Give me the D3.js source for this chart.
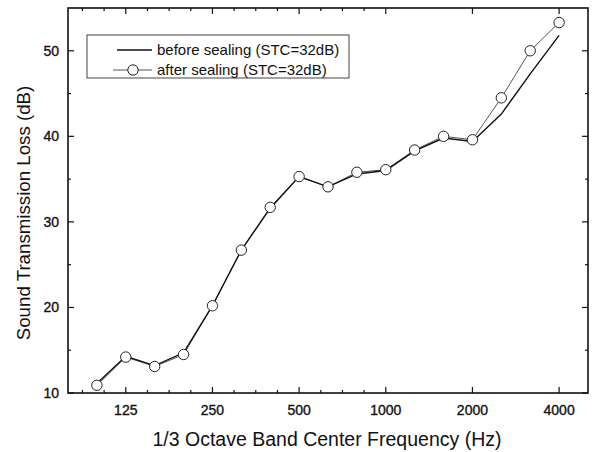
<!DOCTYPE html>
<html>
<head>
<meta charset="utf-8">
<script src="https://cdn.jsdelivr.net/npm/d3@7"></script>
<style>
  html, body { margin: 0; padding: 0; background: #fff; }
  svg { display: block; }
  text { font-family: "Liberation Sans", Arial, sans-serif; fill: #111; }
</style>
</head>
<body>
<svg id="chart" width="593" height="452"></svg>
<script>
// 1/3-octave band centre frequencies (Hz)
const freqs = [100, 125, 160, 200, 250, 315, 400, 500, 630, 800, 1000, 1250, 1600, 2000, 2500, 3150, 4000];
// Sound transmission loss (dB)
const before = [11.1, 14.3, 13.2, 14.7, 20.2, 26.7, 31.6, 35.3, 34.1, 35.6, 36.0, 38.3, 39.8, 39.4, 42.6, 47.3, 51.8];
const after  = [10.9, 14.2, 13.1, 14.5, 20.2, 26.7, 31.7, 35.3, 34.1, 35.8, 36.1, 38.4, 40.0, 39.6, 44.5, 50.0, 53.3];
// Labelled octave ticks and value ticks
const xTickLabels = [125, 250, 500, 1000, 2000, 4000];
const yTickLabels = [10, 20, 30, 40, 50];
const seriesNames = ["before sealing (STC=32dB)", "after sealing (STC=32dB)"];

const svg = d3.select("#chart");
const L = 68, R = 588, T = 8, B = 393;

// exact band centre for a nominal 1/3-octave frequency
const exact = f => 1000 * Math.pow(2, Math.round(3 * Math.log2(f / 1000)) / 3);

const x = d3.scaleLog()
  .domain([1000 * Math.pow(2, -11 / 3), 1000 * Math.pow(2, 7 / 3)])
  .range([L, R]);
const y = d3.scaleLinear().domain([10, 55]).range([B, T]);

// quarter-octave minor ticks around the labelled octaves
const minorX = d3.range(-20, 12).map(k => 125 * Math.pow(2, k / 4))
  .filter(f => f > x.domain()[0] * 1.001 && f < x.domain()[1] * 0.999 && !xTickLabels.includes(Math.round(f)));
const minorY = d3.range(15, 55, 10);

const g = svg.append("g");

// tick marks pointing inward on all four sides
function ticks(sel, vals, len, side) {
  vals.forEach(v => {
    if (side === "bottom") sel.append("line").attr("x1", x(v)).attr("x2", x(v)).attr("y1", B).attr("y2", B - len);
    if (side === "top") sel.append("line").attr("x1", x(v)).attr("x2", x(v)).attr("y1", T).attr("y2", T + len);
    if (side === "left") sel.append("line").attr("y1", y(v)).attr("y2", y(v)).attr("x1", L).attr("x2", L + len);
    if (side === "right") sel.append("line").attr("y1", y(v)).attr("y2", y(v)).attr("x1", R).attr("x2", R - len);
  });
}
const tg = g.append("g").attr("stroke", "#111").attr("stroke-width", 1.2);
ticks(tg, xTickLabels, 6, "bottom");
ticks(tg, minorX, 3, "bottom");
ticks(tg, xTickLabels, 6, "top");
ticks(tg, minorX, 3, "top");
ticks(tg, yTickLabels, 6, "left");
ticks(tg, minorY, 3, "left");
ticks(tg, yTickLabels, 6, "right");
ticks(tg, minorY, 3, "right");

// frame
g.append("rect").attr("x", L).attr("y", T).attr("width", R - L).attr("height", B - T)
  .attr("fill", "none").attr("stroke", "#111").attr("stroke-width", 1.6);

// tick labels
g.selectAll(".xl").data(xTickLabels).join("text")
  .attr("x", d => x(d)).attr("y", 415).attr("text-anchor", "middle")
  .attr("font-size", 14).attr("stroke", "#111").attr("stroke-width", 0.35).text(d => d);
g.selectAll(".yl").data(yTickLabels).join("text")
  .attr("x", 59).attr("y", d => y(d) + 5).attr("text-anchor", "end")
  .attr("font-size", 14).attr("stroke", "#111").attr("stroke-width", 0.35).text(d => d);

// axis titles
g.append("text").attr("x", 327).attr("y", 446).attr("text-anchor", "middle")
  .attr("font-size", 19.5).text("1/3 Octave Band Center Frequency (Hz)");
g.append("text").attr("transform", "translate(30,213) rotate(-90)").attr("text-anchor", "middle")
  .attr("font-size", 18.7).text("Sound Transmission Loss (dB)");

// series
const line = d3.line().x(d => x(exact(d[0]))).y(d => y(d[1]));
const beforePts = freqs.map((f, i) => [f, before[i]]);
const afterPts = freqs.map((f, i) => [f, after[i]]);

g.append("path").datum(afterPts).attr("d", line)
  .attr("fill", "none").attr("stroke", "#555").attr("stroke-width", 1);
g.append("path").datum(beforePts).attr("d", line)
  .attr("fill", "none").attr("stroke", "#111").attr("stroke-width", 1.4);
g.selectAll(".pt").data(afterPts).join("circle")
  .attr("cx", d => x(exact(d[0]))).attr("cy", d => y(d[1])).attr("r", 5.2)
  .attr("fill", "#fff").attr("stroke", "#222").attr("stroke-width", 1);

// legend
const lg = g.append("g");
lg.append("rect").attr("x", 87).attr("y", 35).attr("width", 262).attr("height", 43)
  .attr("fill", "#fff").attr("stroke", "#444").attr("stroke-width", 1);
lg.append("line").attr("x1", 117).attr("x2", 152).attr("y1", 50).attr("y2", 50)
  .attr("stroke", "#111").attr("stroke-width", 1.4);
lg.append("line").attr("x1", 113).attr("x2", 152).attr("y1", 70).attr("y2", 70)
  .attr("stroke", "#555").attr("stroke-width", 1);
lg.append("circle").attr("cx", 133).attr("cy", 70).attr("r", 5.2)
  .attr("fill", "#fff").attr("stroke", "#222").attr("stroke-width", 1);
lg.selectAll(".lt").data(seriesNames).join("text")
  .attr("x", 157).attr("y", (d, i) => 55 + i * 20).attr("font-size", 15).text(d => d);
</script>
</body>
</html>
